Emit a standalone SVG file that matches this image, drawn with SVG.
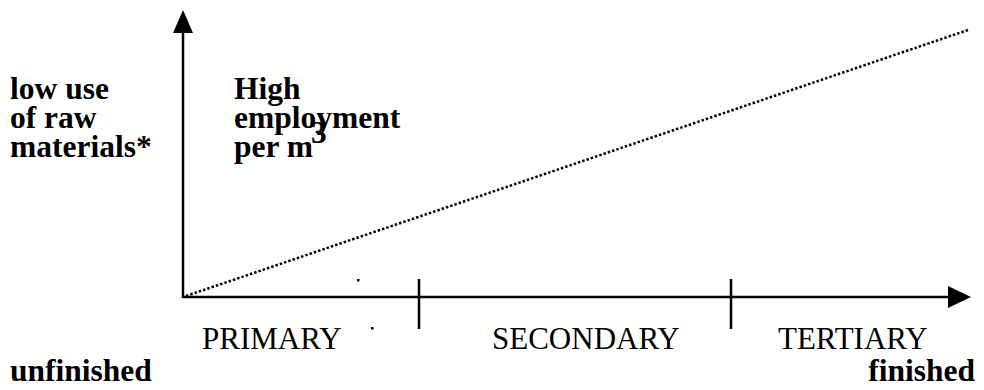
<svg xmlns="http://www.w3.org/2000/svg" width="984" height="390" viewBox="0 0 984 390">
<style>
.b{font-family:"Liberation Serif","Times New Roman",serif;font-weight:bold;font-size:31.5px;fill:#000}
.r{font-family:"Liberation Serif","Times New Roman",serif;font-size:31px;fill:#000}
.ax{stroke:#000;stroke-width:2.5;fill:none}
</style>
<rect width="984" height="390" fill="#fff"/>
<g id="connectors">
<line class="ax" x1="183" y1="298" x2="183" y2="30"/>
<polygon points="183,10 173,33 193,33" fill="#000"/>
<line class="ax" x1="183" y1="297" x2="950" y2="297"/>
<polygon points="971,297 948,286 948,308" fill="#000"/>
<line class="ax" x1="419" y1="279" x2="419" y2="329"/>
<line class="ax" x1="731" y1="279" x2="731" y2="329"/>
<line x1="186" y1="296" x2="968" y2="30" stroke="#000" stroke-width="2.5" stroke-dasharray="2.5 2"/>
<rect x="357" y="279" width="2.5" height="2.5" fill="#000"/>
<rect x="371" y="327" width="2.5" height="2.5" fill="#000"/>
</g>
<g id="y-label"><text class="b" x="10" y="99">low use</text><text class="b" x="10" y="128">of raw</text><text class="b" x="10" y="157">materials*</text></g>
<g id="note"><text class="b" x="234" y="99">High</text><text class="b" x="234" y="128">employment</text><text class="b" x="234" y="157">per m</text><text class="b" x="311" y="143" font-size="19">3</text></g>
<g id="primary"><text class="r" x="202" y="349">PRIMARY</text></g>
<g id="secondary"><text class="r" x="492" y="349">SECONDARY</text></g>
<g id="tertiary"><text class="r" x="778" y="349">TERTIARY</text></g>
<g id="unfinished"><text class="b" x="10" y="381">unfinished</text></g>
<g id="finished"><text class="b" x="975" y="381" text-anchor="end">finished</text></g>
</svg>
